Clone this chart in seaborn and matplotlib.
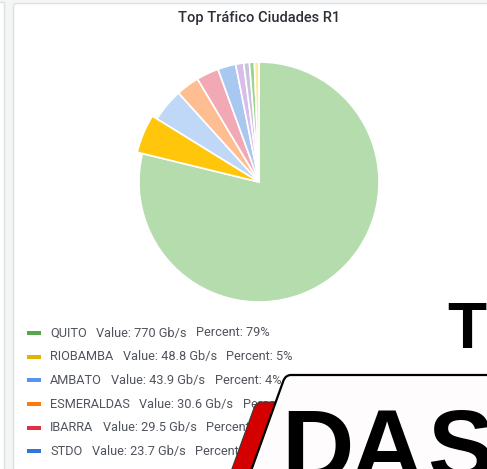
import matplotlib
matplotlib.use("Agg")
import matplotlib.pyplot as plt
import seaborn as sns
from matplotlib.patches import Rectangle, FancyBboxPatch, PathPatch
from matplotlib.path import Path

# Traffic per city (Gb/s); the legend lists the named cities
cities = ["QUITO", "RIOBAMBA", "AMBATO", "ESMERALDAS", "IBARRA", "STDO"]
traffic_gbps = [770, 48.8, 43.9, 30.6, 29.5, 23.7]
minor_traffic_gbps = [10.5, 7.5, 6.5, 6.0]

legend_colors = ["#56A64B", "#E0B400", "#5794F2", "#FF780A", "#E02F44", "#3274D9"]
slice_colors = ["#B5DCAD", "#FFC60C", "#C0D8F8", "#FFBE92", "#F2A9B6",
                "#A8C8F0", "#D8BDEB", "#C8C4DC", "#9BD48F", "#FFE9A0"]
highlighted = "RIOBAMBA"
title = "Top Tráfico Ciudades R1"

sns.set_theme(style="white")
plt.rcParams["font.family"] = ["Roboto", "DejaVu Sans"]

W, H = 487, 469
fig = plt.figure(figsize=(W / 100, H / 100), dpi=100)
fig.patch.set_facecolor("#f4f5f5")

# pixel-space canvas for panel chrome, title and legend
bg = fig.add_axes([0, 0, 1, 1], zorder=0)
bg.set_xlim(0, W)
bg.set_ylim(H, 0)
bg.axis("off")

bg.add_patch(Rectangle((-10, 2.5), 13.5, 480, fc="white", ec="#dfe0e2", lw=1))
bg.add_patch(FancyBboxPatch((13.5, 3.5), 490, 480,
                            boxstyle="round,pad=0,rounding_size=3",
                            fc="white", ec="#dfe0e2", lw=1))

bg.text(259, 18, title, ha="center", va="center", fontsize=10.5,
        fontweight="medium", color="#2b2f36")

# pie
values = traffic_gbps + minor_traffic_gbps
total = sum(values)
cx, cy, half = 259, 182, 132
pie_ax = fig.add_axes([(cx - half) / W, 1 - (cy + half) / H, 2 * half / W, 2 * half / H],
                      zorder=1)
wedges, _ = pie_ax.pie(values, colors=slice_colors, startangle=90, counterclock=False,
                       radius=1, wedgeprops=dict(edgecolor="white", linewidth=1.2))
hi = wedges[cities.index(highlighted)]
hi.set_radius(1.045)
hi.set_zorder(5)
pie_ax.set_xlim(-1.1, 1.1)
pie_ax.set_ylim(-1.1, 1.1)
pie_ax.axis("off")

# legend rows
fig.canvas.draw()
renderer = fig.canvas.get_renderer()
row_y0, row_dy = 333, 23.7
txt_kw = dict(va="center", ha="left", fontsize=9.2, color="#50545c")
for i, (name, v, col) in enumerate(zip(cities, traffic_gbps, legend_colors)):
    y = row_y0 + i * row_dy
    bg.add_patch(Rectangle((27, y - 2), 14, 4, fc=col, ec="none"))
    parts = [name, f"Value: {v:.3g} Gb/s", f"Percent: {round(100 * v / total)}%"]
    x = 50
    for p in parts:
        t = bg.text(x, y, p, **txt_kw)
        ext = t.get_window_extent(renderer)
        x = ext.x1 + 9.5

# logo overlay in pixel space
fg = fig.add_axes([0, 0, 1, 1], zorder=3)
fg.set_xlim(0, W)
fg.set_ylim(H, 0)
fg.axis("off")
fg.patch.set_alpha(0)

logo_font = dict(family="Liberation Sans", fontweight="bold", color="black",
                 ha="left", va="baseline")
fg.text(447, 348, "T", fontsize=46, **logo_font)

slope = 0.36
red_path = Path([(256 - slope * 78, 480), (254, 408), (256, 402), (262, 402),
                 (300, 402), (300, 480), (0, 0)],
                [Path.MOVETO, Path.LINETO, Path.CURVE3, Path.CURVE3,
                 Path.LINETO, Path.LINETO, Path.CLOSEPOLY])
fg.add_patch(PathPatch(red_path, fc="#D40000", ec="#3a3a3a", lw=0.8, zorder=1))

box_path = Path([(283 - slope * 98, 480), (283.3, 381), (285.5, 375), (291, 375),
                 (500, 375), (500, 480), (0, 0)],
                [Path.MOVETO, Path.LINETO, Path.CURVE3, Path.CURVE3,
                 Path.LINETO, Path.LINETO, Path.CLOSEPOLY])
fg.add_patch(PathPatch(box_path, fc="#fffcfd", ec="black", lw=1.6, zorder=2))

for letter, lx in zip("DAS", [281, 351, 427]):
    fg.text(lx, 480, letter, fontsize=72, zorder=3, **logo_font)

fig.savefig("out.png", dpi=100, facecolor=fig.get_facecolor())
